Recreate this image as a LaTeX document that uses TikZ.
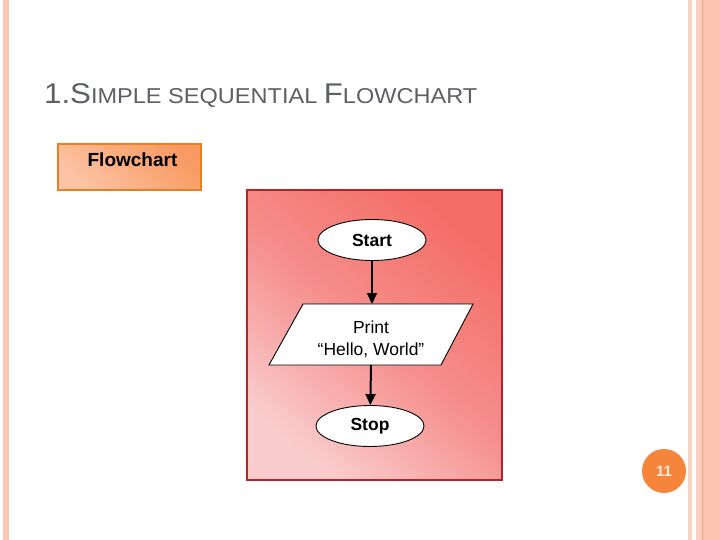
\documentclass[tikz,border=0pt]{standalone}
\usepackage{fontspec}
\setmainfont{Liberation Sans}
\usetikzlibrary{shapes.geometric,arrows.meta}
\definecolor{stripeA}{HTML}{F9C9B6}
\definecolor{stripeB}{HTML}{FBD3C3}
\definecolor{stripeC}{HTML}{FAD0C0}
\definecolor{stripeD}{HTML}{FCC5B2}
\definecolor{stripeLine}{HTML}{E8A07A}
\definecolor{titlegray}{HTML}{5C5F63}
\definecolor{boxorange}{HTML}{E8801F}
\definecolor{boxlight}{HTML}{FCC4A6}
\definecolor{boxmid}{HTML}{FAAE80}
\definecolor{boxdark}{HTML}{F89A62}
\definecolor{redborder}{HTML}{B5232A}
\definecolor{redtop}{HTML}{F46E66}
\definecolor{redmid}{HTML}{F58E8C}
\definecolor{redlow}{HTML}{F9CDCD}
\definecolor{pageorange}{HTML}{F6843A}
\definecolor{pagetext}{HTML}{FDEBDD}
\tikzset{
  term/.style={ellipse, draw=black, line width=0.9pt, fill=white, minimum width=108pt, minimum height=41pt, inner sep=0pt, font=\fontsize{17.5}{20}\selectfont\bfseries},
  arr/.style={line width=2pt, -{Triangle[length=11pt,width=10pt]}},
}
\begin{document}
\begin{tikzpicture}[x=1pt,y=-1pt]
\useasboundingbox (0,0) rectangle (720,540);
\fill[white] (0,0) rectangle (720,540);
% side stripes
\fill[stripeA] (3,0) rectangle (9,540);
\fill[stripeB] (688,0) rectangle (692,540);
\fill[stripeC] (696,0) rectangle (702,540);
\fill[stripeD] (703,0) rectangle (720,540);
\draw[stripeLine, line width=1pt] (702.5,0) -- (702.5,540);
% title
\node[anchor=base west, inner sep=0pt, text=titlegray] (title) at (44,104)
  {\scalebox{1.095}[1]{\fontsize{28.5}{32}\selectfont 1.S\fontsize{21.5}{26}\selectfont IMPLE SEQUENTIAL \fontsize{28.5}{32}\selectfont F\fontsize{21.5}{26}\selectfont LOWCHART}};
% Flowchart label box
\shade[bottom color=boxlight, top color=boxdark, middle color=boxmid, shading angle=-40] (58,144) rectangle (201,190);
\draw[boxorange, line width=1.3pt] (58,144) rectangle (201,190);
\node[font=\fontsize{19}{22}\selectfont\bfseries, text=black] (label) at (132.5,160) {Flowchart};
% red panel
\shade[bottom color=redlow, top color=redtop, middle color=redmid, shading angle=-40] (247,190) rectangle (502,480);
\draw[redborder, line width=1.6pt] (247,190) rectangle (502,480);
% flowchart
\node[term] (start) at (372,240) {Start};
\coordinate (ptop) at (372,304);
\coordinate (pbot) at (371,365);
\draw[black, line width=0.9pt, fill=white] (303,304) -- (473,304) -- (441,365) -- (269,365) -- cycle;
\node[align=center, font=\fontsize{17.5}{22}\selectfont, inner sep=0pt] (print) at (371,339) {Print\\“Hello, World”};
\node[term] (stop) at (370,426) {Stop};
\draw[arr] (start) -- (ptop);
\draw[arr] (pbot) -- (stop);
% page number
\node[circle, fill=pageorange, minimum size=44pt, inner sep=0pt, text=pagetext, font=\fontsize{15}{18}\selectfont\bfseries] (page) at (664,471) {11};
\end{tikzpicture}
\end{document}
